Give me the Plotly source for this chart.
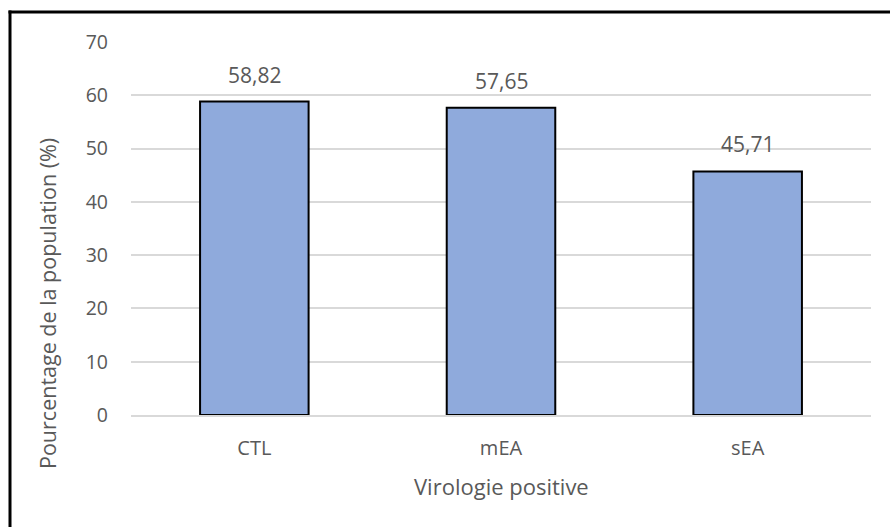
import plotly.graph_objects as go

categories = ["CTL", "mEA", "sEA"]
values = [58.82, 57.65, 45.71]
y_ticks = [0, 10, 20, 30, 40, 50, 60, 70]

FONT = "Open Sans"
GREY = "#595959"

# plot area in page px: x 131..871, y 42..415
PX0, PW = 131, 740
PY0, PH = 415, 373

fig = go.Figure()
fig.add_trace(go.Bar(
    x=categories, y=values,
    marker=dict(color="#8FAADC", line=dict(color="black", width=2)),
    hoverinfo="skip",
))

for c, v in zip(categories, values):
    fig.add_annotation(
        x=c, y=v, xref="x", yref="y",
        text=f"{v:.2f}".replace(".", ","),
        showarrow=False, yanchor="bottom", yshift=11,
        font=dict(family=FONT, size=21, color=GREY),
    )

# axis titles
fig.add_annotation(
    text="Virologie positive", xref="paper", yref="paper",
    x=(501 - PX0) / PW, y=(PY0 - 486) / PH, showarrow=False,
    xanchor="center", yanchor="middle",
    font=dict(family=FONT, size=22, color=GREY),
)
fig.add_annotation(
    text="Pourcentage de la population (%)", xref="paper", yref="paper",
    x=(47 - PX0) / PW, y=(PY0 - 304) / PH, showarrow=False, textangle=-90,
    xanchor="center", yanchor="middle",
    font=dict(family=FONT, size=21.5, color=GREY),
)

# chart border (left and top edges visible)
fig.add_shape(
    type="line", xref="paper", yref="paper",
    x0=(10 - PX0) / PW, x1=(10 - PX0) / PW,
    y0=(PY0 - 560) / PH, y1=(PY0 - 10.5) / PH,
    line=dict(color="black", width=3), layer="above",
)
fig.add_shape(
    type="line", xref="paper", yref="paper",
    x0=(8.5 - PX0) / PW, x1=(900 - PX0) / PW,
    y0=(PY0 - 12) / PH, y1=(PY0 - 12) / PH,
    line=dict(color="black", width=3), layer="above",
)

fig.update_layout(
    width=890, height=527,
    margin=dict(l=PX0, r=890 - PX0 - PW, t=PY0 - PH, b=527 - PY0),
    paper_bgcolor="white", plot_bgcolor="white",
    bargap=0.56, showlegend=False,
    font=dict(family=FONT, size=20, color=GREY),
    xaxis=dict(
        showline=True, linecolor="#D9D9D9", linewidth=1.5,
        ticks="", ticklabelstandoff=14,
        tickfont=dict(family=FONT, size=20, color=GREY),
        showgrid=False,
    ),
    yaxis=dict(
        range=[0, 70], tickvals=y_ticks, showgrid=True,
        gridcolor="#D9D9D9", gridwidth=1.5, zeroline=False,
        showline=False, ticks="", ticklabelstandoff=22,
        tickfont=dict(family=FONT, size=19.5, color=GREY),
    ),
)

fig.write_html(
    "out.html",
    config={"displayModeBar": False},
    post_script="document.body.style.margin='0';document.body.style.overflow='hidden';",
)
